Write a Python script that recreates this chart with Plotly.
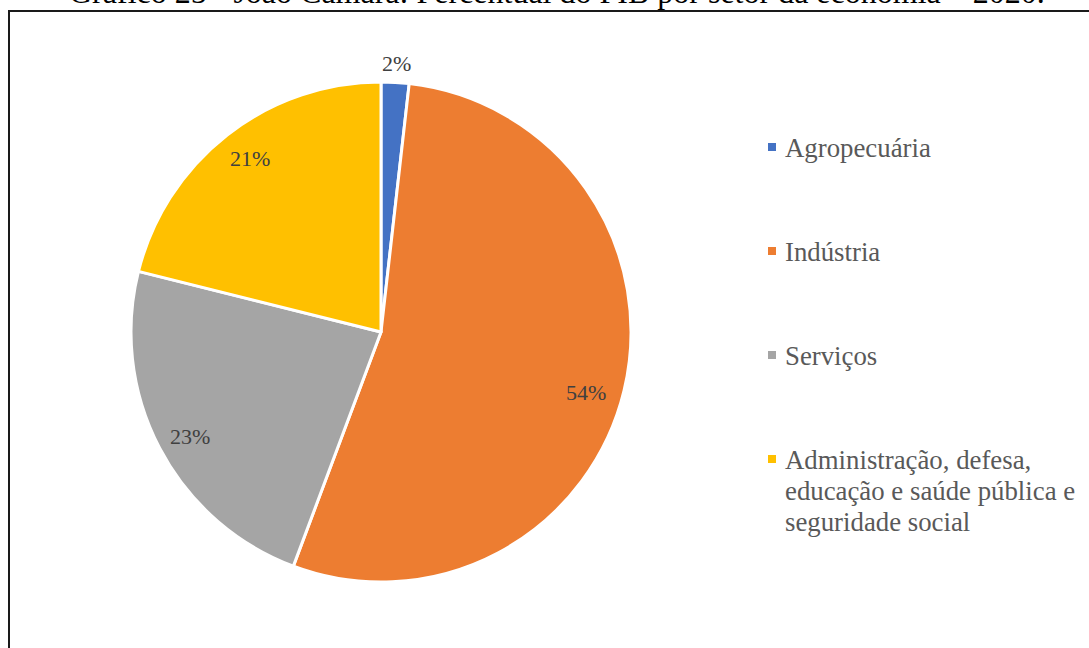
import math
import plotly.graph_objects as go

categories = ["Agropecuária", "Indústria", "Serviços",
              "Administração, defesa,<br>educação e saúde pública e<br>seguridade social"]
values = [1.8, 53.9, 23.2, 21.1]
colors = ["#4472C4", "#ED7D31", "#A5A5A5", "#FFC000"]
label_radius = [1.076, 0.855, 0.87, 0.87]
label_shift_deg = [0, 3, -1, 1]
title = "Gráfico 25 - João Câmara: Percentual do PIB por setor da economia – 2020."

W, H = 1089, 648
cx, cy, R = 381, 332, 250

fig = go.Figure(go.Pie(
    labels=categories, values=values, sort=False, direction="clockwise", rotation=0,
    marker=dict(colors=colors, line=dict(color="white", width=3)),
    textinfo="none", hoverinfo="label+percent", showlegend=False,
    domain=dict(x=[(cx - R) / W, (cx + R) / W], y=[1 - (cy + R) / H, 1 - (cy - R) / H]),
))

annotations = []
shapes = []
total = sum(values)
cum = 0.0
for v, rf, sh in zip(values, label_radius, label_shift_deg):
    mid = (cum + v / 2) / total * 2 * math.pi + math.radians(sh)
    cum += v
    px = cx + rf * R * math.sin(mid)
    py = cy - rf * R * math.cos(mid)
    annotations.append(dict(
        x=px / W, y=1 - py / H, xref="paper", yref="paper", showarrow=False,
        text=f"{round(v / total * 100)}%", xanchor="center", yanchor="middle",
        font=dict(family="Liberation Serif", size=22, color="#404040")))

# legend
leg_y = [148, 252, 356, 460]
line_gap = 31
for cat, col, ly in zip(categories, colors, leg_y):
    shapes.append(dict(type="rect", xref="paper", yref="paper",
                       x0=768 / W, x1=776 / W, y0=1 - (ly + 3) / H, y1=1 - (ly - 5) / H,
                       fillcolor=col, line=dict(width=0)))
    for i, line in enumerate(cat.split("<br>")):
        annotations.append(dict(
            x=783 / W, y=1 - (ly + i * line_gap) / H, xref="paper", yref="paper",
            showarrow=False, text=line, xanchor="left", yanchor="middle", align="left",
            font=dict(family="Liberation Serif", size=26.8, color="#595959")))

# title (partly cut off at the top)
annotations.append(dict(
    x=557 / W, y=1 + 8 / H, xref="paper", yref="paper", showarrow=False,
    text=title, xanchor="center", yanchor="middle",
    font=dict(family="Liberation Serif", size=32, color="black")))

# frame
shapes.append(dict(type="rect", xref="paper", yref="paper",
                   x0=9 / W, x1=1.01, y0=-0.01, y1=1 - 11 / H,
                   line=dict(color="#1a1a1a", width=2), fillcolor="rgba(0,0,0,0)", layer="below"))

fig.update_layout(
    width=W, height=H, margin=dict(l=0, r=0, t=0, b=0),
    paper_bgcolor="white", plot_bgcolor="white",
    annotations=annotations, shapes=shapes,
)
fig.write_html("out.html", config={"displayModeBar": False},
               post_script="document.body.style.margin='0';document.body.style.overflow='hidden';")
